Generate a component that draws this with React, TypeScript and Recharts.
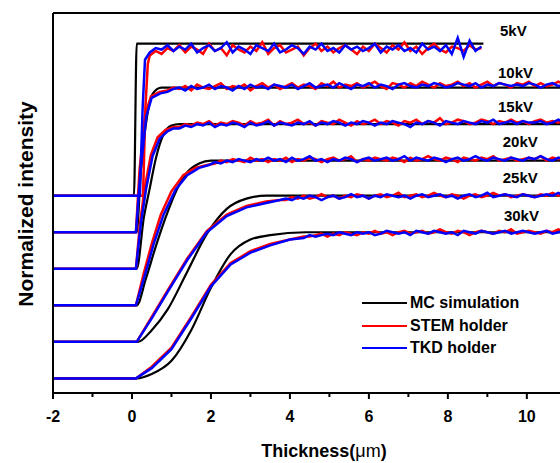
import React from "react";
import {
  Legend,
  Line,
  LineChart,
  ReferenceDot,
  ReferenceLine,
  XAxis,
  YAxis,
} from "recharts";

const FONT = '"Liberation Sans", Arial, sans-serif';

// energies, top to bottom; each trace is shifted up by a fixed offset (as in the paper figure)
const voltages = ["5kV", "10kV", "15kV", "20kV", "25kV", "30kV"];
const offsets = [1.25, 1, 0.75, 0.5, 0.25, 0];
const xTicks = [-2, -1, 0, 1, 2, 3, 4, 5, 6, 7, 8, 9, 10];

// rising edges, [thickness µm, intensity %]. black curve runs to its end.
const mcRise = [
  [[-2, 0], [0.05, 0], [0.12, 104], [8.9, 104]],
  [[-2, 0], [0.12, 0], [0.22, 40], [0.38, 79], [0.53, 95], [0.75, 99], [10.9, 99]],
  [[-2, 0], [0.12, 0], [0.3, 35], [0.45, 55], [0.6, 75], [0.8, 92], [1.0, 98], [1.2, 99], [10.9, 99]],
  [[-2, 0], [0.12, 0], [0.35, 18], [0.6, 40], [0.85, 60], [1.15, 80], [1.4, 91], [1.7, 97], [2.0, 99], [10.9, 99]],
  [[-2, 0], [0.15, 0], [0.5, 8], [0.9, 22], [1.4, 48], [1.9, 74], [2.4, 91], [2.9, 98], [3.4, 100], [10.9, 100]],
  [[-2, 0], [0.12, 0], [0.5, 3], [1.0, 12], [1.5, 33], [2.0, 62], [2.5, 85], [3.0, 95], [3.5, 98], [4.4, 100], [10.9, 100]],
];
const stemRise = [
  [[-2, 0], [0.28, 0], [0.34, 60], [0.4, 90]],
  [[-2, 0], [0.1, 0], [0.19, 42], [0.33, 80], [0.48, 93], [0.7, 96]],
  [[-2, 0], [0.1, 0], [0.2, 30], [0.32, 55], [0.48, 78], [0.65, 90], [0.85, 95], [1.05, 97]],
  [[-2, 0], [0.1, 0], [0.3, 22], [0.5, 42], [0.73, 62], [1.0, 78], [1.3, 89], [1.6, 94], [1.9, 96]],
  [[-2, 0], [0.12, 0], [0.5, 17], [0.9, 35], [1.4, 57], [1.9, 76], [2.4, 87], [2.9, 93], [3.4, 96], [3.75, 97]],
  [[-2, 0], [0.1, 0], [0.5, 8], [1.0, 21], [1.5, 42], [2.0, 64], [2.5, 79], [3.0, 87], [3.5, 92], [4.0, 95], [4.35, 97]],
];
const tkdRise = [
  [[-2, 0], [0.2, 0], [0.27, 60], [0.33, 93]],
  [[-2, 0], [0.1, 0], [0.21, 40], [0.36, 79], [0.5, 92], [0.72, 95]],
  [[-2, 0], [0.1, 0], [0.22, 30], [0.36, 55], [0.52, 77], [0.7, 89], [0.9, 94], [1.05, 96]],
  [[-2, 0], [0.1, 0], [0.32, 20], [0.55, 42], [0.8, 62], [1.1, 79], [1.4, 89], [1.7, 94], [1.95, 96]],
  [[-2, 0], [0.12, 0], [0.5, 16], [0.9, 34], [1.4, 56], [1.9, 75], [2.4, 86], [2.9, 92], [3.4, 95], [3.75, 97]],
  [[-2, 0], [0.1, 0], [0.5, 7], [1.0, 20], [1.5, 41], [2.0, 63], [2.5, 78], [3.0, 86], [3.5, 91], [4.0, 95], [4.35, 96]],
];

// measured plateaus (%), sampled every 0.15 µm from plateauStart
const plateauStart = [0.45, 0.9, 1.2, 2.1, 3.9, 4.5];
const plateauStep = 0.15;
const stemPlateau = [
  [96, 99, 97, 101, 99, 103, 98, 102, 100, 97, 104, 99, 101, 96, 103, 100, 98, 102, 99, 105, 97, 101, 103, 98, 100, 102, 96, 101, 104, 99, 102, 98, 101, 103, 100, 97, 102, 99, 104, 101, 98, 103, 100, 105, 99, 102, 97, 101, 104, 100, 98, 102, 101, 99, 103, 100, 101],
  [97, 99, 98, 100, 97, 101, 99, 98, 100, 102, 98, 100, 99, 101, 97, 100, 102, 99, 101, 98, 100, 102, 99, 101, 100, 98, 102, 100, 103, 99, 101, 100, 102, 99, 101, 103, 100, 98, 102, 101, 99, 102, 100, 103, 101, 99, 102, 100, 101, 103, 100, 102, 99, 101, 103, 100, 102, 101, 99, 102, 101, 103, 100, 102, 100, 101, 103, 101],
  [97, 99, 98, 100, 99, 101, 98, 100, 99, 101, 100, 98, 101, 99, 100, 102, 98, 101, 99, 100, 102, 99, 100, 98, 101, 100, 99, 102, 100, 98, 101, 99, 100, 102, 99, 101, 100, 98, 101, 100, 102, 99, 101, 100, 103, 99, 100, 102, 101, 99, 100, 102, 101, 99, 101, 100, 102, 100, 101, 99, 101, 102, 100, 101, 100, 102],
  [97, 99, 98, 100, 99, 98, 101, 99, 100, 98, 100, 99, 101, 98, 100, 99, 101, 100, 98, 100, 101, 99, 100, 102, 98, 100, 99, 101, 100, 99, 101, 100, 98, 101, 99, 100, 102, 100, 99, 101, 100, 98, 101, 100, 99, 101, 100, 102, 99, 100, 101, 99, 100, 101, 100, 102, 99, 101, 100, 101],
  [97, 99, 98, 100, 98, 99, 101, 99, 100, 98, 100, 99, 101, 100, 98, 100, 101, 99, 100, 102, 99, 100, 101, 99, 100, 102, 100, 99, 101, 100, 98, 100, 101, 99, 100, 102, 100, 101, 99, 100, 101, 100, 99, 101, 100, 102, 100, 101],
  [97, 98, 99, 97, 99, 98, 100, 99, 98, 100, 99, 101, 99, 100, 98, 100, 101, 99, 100, 101, 99, 100, 102, 100, 99, 101, 100, 98, 100, 101, 100, 99, 101, 100, 102, 99, 100, 101, 100, 99, 101, 100, 102, 100],
];
const tkdPlateau = [
  [98, 101, 100, 103, 99, 102, 100, 104, 98, 101, 103, 99, 101, 105, 98, 102, 100, 97, 103, 101, 99, 104, 98, 100, 103, 101, 97, 102, 100, 104, 99, 101, 98, 103, 100, 102, 99, 101, 104, 98, 102, 100, 103, 99, 101, 98, 104, 100, 102, 99, 103, 97, 108, 95, 106, 99, 102],
  [96, 98, 99, 97, 100, 98, 99, 101, 98, 100, 99, 97, 100, 98, 101, 99, 100, 98, 101, 100, 99, 101, 98, 100, 102, 99, 100, 101, 99, 102, 100, 98, 101, 100, 102, 99, 101, 100, 98, 101, 102, 100, 99, 101, 100, 102, 101, 99, 100, 102, 101, 100, 102, 99, 101, 100, 102, 101, 100, 101, 100, 102, 101, 99, 101, 102, 100, 101],
  [96, 98, 97, 99, 98, 100, 97, 99, 98, 100, 99, 97, 100, 98, 99, 101, 98, 100, 99, 98, 100, 99, 101, 98, 100, 99, 101, 100, 98, 100, 99, 101, 100, 98, 100, 99, 101, 100, 99, 97, 100, 99, 101, 100, 98, 101, 100, 99, 101, 100, 99, 101, 100, 102, 99, 100, 101, 99, 101, 100, 100, 101, 99, 100, 102, 100],
  [98, 97, 99, 98, 100, 99, 98, 100, 99, 101, 99, 100, 98, 101, 99, 100, 102, 99, 100, 98, 100, 99, 101, 100, 98, 100, 101, 99, 100, 101, 99, 100, 102, 99, 101, 100, 99, 101, 100, 98, 100, 101, 99, 100, 102, 100, 99, 101, 100, 99, 101, 100, 99, 101, 100, 102, 100, 99, 101, 100],
  [98, 97, 99, 98, 100, 99, 97, 99, 100, 98, 99, 101, 99, 100, 98, 100, 99, 101, 100, 99, 100, 98, 100, 101, 99, 100, 101, 99, 100, 98, 100, 101, 99, 100, 102, 99, 100, 101, 100, 99, 101, 100, 99, 100, 101, 100, 102, 100],
  [98, 97, 98, 99, 98, 100, 99, 98, 100, 99, 100, 98, 99, 101, 100, 99, 100, 98, 101, 100, 99, 101, 100, 99, 100, 98, 101, 100, 99, 101, 100, 99, 100, 101, 99, 100, 101, 100, 99, 100, 101, 99, 100, 101],
];

const legendItems = [
  ["MC simulation", "#000000"],
  ["STEM holder", "#ff0000"],
  ["TKD holder", "#0000ff"],
];
// where the energy tags sit, in data units
const tagX = [9.32, 9.27, 9.27, 9.39, 9.39, 9.42];
const tagY = [2.38, 2.09, 1.86, 1.62, 1.37, 1.11];

type Pt = { x: number; y: number };

function build(i: number, rise: number[][], plateau?: number[]): Pt[] {
  const off = offsets[i];
  const pts = rise.map(([x, y]) => ({ x, y: off + y / 100 }));
  if (plateau) {
    plateau.forEach((v, j) => {
      pts.push({ x: +(plateauStart[i] + j * plateauStep).toFixed(2), y: off + v / 100 });
    });
  }
  return pts;
}

const mcData = voltages.map((_, i) => build(i, mcRise[i]));
const stemData = voltages.map((_, i) => build(i, stemRise[i], stemPlateau[i]));
const tkdData = voltages.map((_, i) => build(i, tkdRise[i], tkdPlateau[i]));

function XTick(props: any) {
  const { x, y, payload } = props;
  const major = payload.value % 2 === 0;
  return (
    <g>
      <line x1={x} x2={x} y1={y} y2={y + (major ? 6 : 4)} stroke="#000" strokeWidth={2} />
      {major && (
        <text x={x} y={y + 29} textAnchor="middle" fontFamily={FONT} fontWeight={700} fontSize={16} fill="#000">
          {payload.value}
        </text>
      )}
    </g>
  );
}

function renderLegend() {
  return (
    <div style={{ fontFamily: FONT, fontWeight: 700, fontSize: 16, color: "#000" }}>
      {legendItems.map(([name, color]) => (
        <div key={name} style={{ display: "flex", alignItems: "center", height: 22.5 }}>
          <span style={{ width: 45, height: 0, borderTop: `2.5px solid ${color}`, marginRight: 3 }} />
          <span>{name}</span>
        </div>
      ))}
    </div>
  );
}

export default function App() {
  return (
    <div style={{ position: "absolute", left: 0, top: 0, width: 560, height: 463, background: "#fff" }}>
      <LineChart width={560} height={463} margin={{ top: 13, right: 0, bottom: 0, left: 0 }}>
        <XAxis
          dataKey="x"
          type="number"
          domain={[-2, 10.84]}
          allowDataOverflow
          ticks={xTicks}
          interval={0}
          height={70}
          tickSize={0}
          tickMargin={0}
          tickLine={false}
          tick={<XTick />}
          axisLine={{ stroke: "#000", strokeWidth: 2 }}
          label={{
            content: () => (
              <text x={324} y={457} textAnchor="middle" fontFamily={FONT} fontWeight={700} fontSize={18} fill="#000">
                Thickness(<tspan fontWeight={400}>μm</tspan>)
              </text>
            ),
          }}
        />
        <YAxis
          type="number"
          domain={[-0.1, 2.5]}
          allowDataOverflow
          width={53}
          tick={false}
          tickLine={false}
          axisLine={{ stroke: "#000", strokeWidth: 2 }}
          label={{
            content: () => (
              <text
                transform="translate(33,204) rotate(-90)"
                textAnchor="middle"
                fontFamily={FONT}
                fontWeight={700}
                fontSize={21}
                fill="#000"
              >
                Normalized intensity
              </text>
            ),
          }}
        />
        <ReferenceLine y={2.5} stroke="#000" strokeWidth={2} />
        {mcData.map((d, i) => (
          <Line
            key={"mc" + i}
            data={d}
            dataKey="y"
            type="monotone"
            stroke="#000000"
            strokeWidth={2.2}
            dot={false}
            activeDot={false}
            isAnimationActive={false}
          />
        ))}
        {stemData.map((d, i) => (
          <Line
            key={"stem" + i}
            data={d}
            dataKey="y"
            type="linear"
            stroke="#ff0000"
            strokeWidth={2.5}
            dot={false}
            activeDot={false}
            isAnimationActive={false}
          />
        ))}
        {tkdData.map((d, i) => (
          <Line
            key={"tkd" + i}
            data={d}
            dataKey="y"
            type="linear"
            stroke="#0000ff"
            strokeWidth={2.5}
            dot={false}
            activeDot={false}
            isAnimationActive={false}
          />
        ))}
        {voltages.map((v, i) => (
          <ReferenceDot
            key={v}
            x={tagX[i]}
            y={tagY[i]}
            r={0}
            fill="none"
            stroke="none"
            label={{ value: v, position: "right", offset: 0, fontFamily: FONT, fontWeight: 700, fontSize: 15, fill: "#000" }}
          />
        ))}
        <Legend
          layout="vertical"
          align="center"
          verticalAlign="middle"
          content={renderLegend}
          wrapperStyle={{ left: 362, top: 292, width: 200, height: "auto" }}
        />
      </LineChart>
    </div>
  );
}
